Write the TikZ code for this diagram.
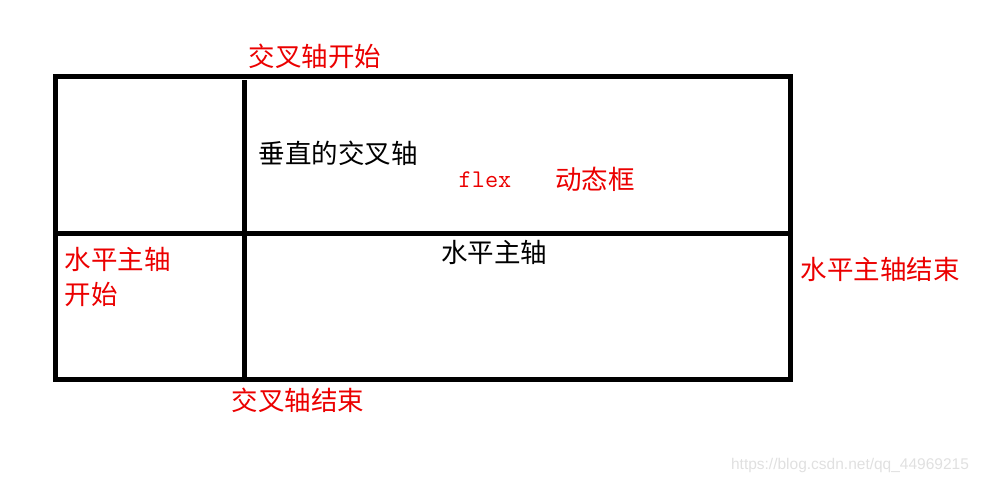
\documentclass[tikz,border=0pt]{standalone}
\usepackage{fontspec}
\newfontfamily\cjk{Noto Sans CJK SC}
\newfontfamily\marksans{Liberation Sans}
\usepackage{tikz}

\begin{document}
\begin{tikzpicture}[x=1pt, y=-1pt, line width=5pt]
        \colorlet{axisred}{red!92!black}
        \colorlet{markgray}{black!12}
        \tikzset{
            redlabel/.style={text=axisred, inner sep=0pt, font=\cjk\fontsize{26.5}{35}\selectfont},
            blacklabel/.style={text=black, inner sep=0pt, font=\cjk\fontsize{26.5}{35}\selectfont}
        }
        \useasboundingbox (0,0) rectangle (981,483);

        % frame and the two axes
        \coordinate (tl) at (55,76);
        \coordinate (br) at (790,379);
        \draw (tl) rectangle (br);
        \coordinate (vtop) at (244,80);
        \coordinate (vbot) at (244,379);
        \draw (vtop) -- (vbot);
        \coordinate (hleft) at (55,233);
        \coordinate (hright) at (790,233);
        \draw (hleft) -- (hright);

        \node[redlabel] (crossstart) at (315,56) {交叉轴开始};
        \node[blacklabel] (crossaxis) at (338,153) {垂直的交叉轴};
        \node[text=axisred, inner sep=0pt, font=\ttfamily\fontsize{25.5}{28}\selectfont] (flex) at (485,180) {flex};
        \node[redlabel] (box) at (595,179) {动态框};
        \node[blacklabel] (mainaxis) at (494,252) {水平主轴};
        \node[redlabel, anchor=west, align=left] (mainstart) at (62,276.5) {水平主轴\\开始};
        \node[redlabel] (mainend) at (880,269) {水平主轴结束};
        \node[redlabel] (crossend) at (298,400) {交叉轴结束};

        \node[text=markgray, inner sep=0pt, font=\marksans\fontsize{15.5}{18}\selectfont] (mark) at (850,465) {https://blog.csdn.net/qq\_44969215};
    \end{tikzpicture}
\end{document}
